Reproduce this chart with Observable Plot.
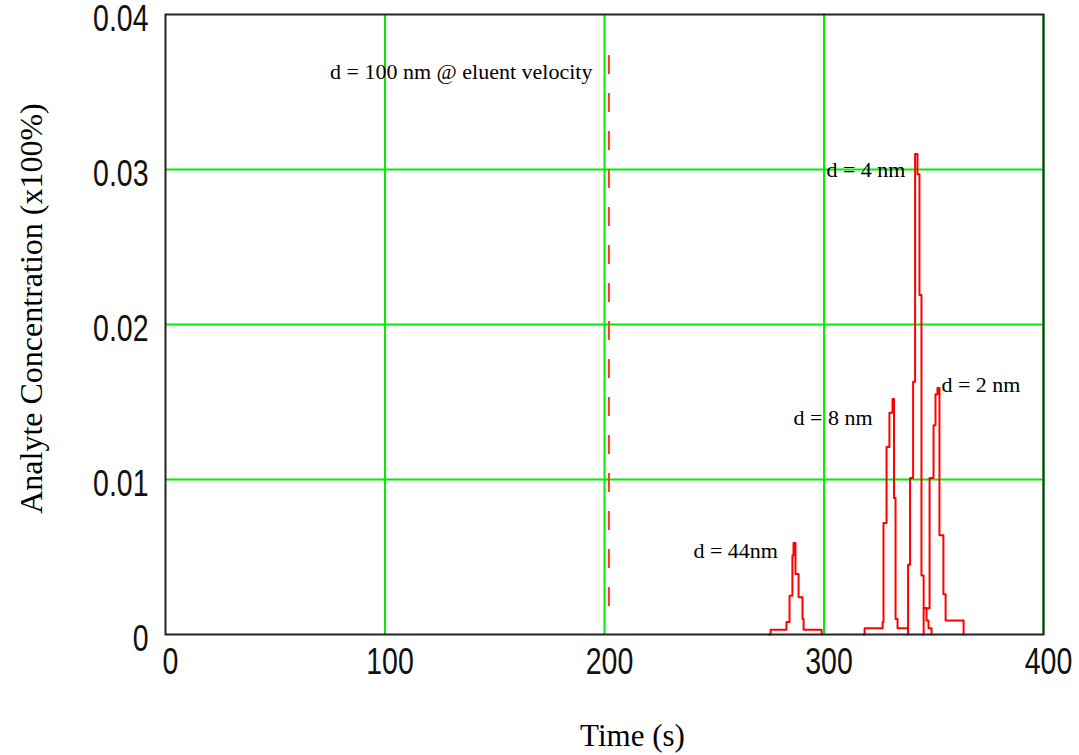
<!DOCTYPE html>
<html>
<head>
<meta charset="utf-8">
<script src="https://cdn.jsdelivr.net/npm/d3@7"></script>
<script src="https://cdn.jsdelivr.net/npm/@observablehq/plot@0.6"></script>
<style>
  html, body { margin: 0; padding: 0; background: #fff; }
  #chart { width: 1079px; height: 755px; }
</style>
</head>
<body>
<div id="chart"></div>
<script>
// ---- data ----
const xTicks = [0, 100, 200, 300, 400];
const yTicks = [0, 0.01, 0.02, 0.03, 0.04];
const gridX = [100, 200, 300, 400];
const gridY = [0.01, 0.02, 0.03];

// peak d = 44 nm
const t44 = [274.7, 275.7, 282.9, 284.3, 285.6, 286.1, 287.0, 288.4, 290.2, 290.7, 298.9];
const c44 = [0, 0.0003, 0.0008, 0.0025, 0.0051, 0.0059, 0.0039, 0.0024, 0.0010, 0.0003, 0];
// peak d = 8 nm
const t8 = [318.0, 318.5, 326.7, 327.1, 328.5, 329.8, 331.2, 331.9, 332.6, 333.5, 338.3];
const c8 = [0, 0.0004, 0.0008, 0.0072, 0.0121, 0.0143, 0.0152, 0.0088, 0.0010, 0.0004, 0];
// peak d = 4 nm
const t4 = [338.0, 338.3, 339.2, 340.6, 341.5, 342.6, 343.5, 344.4, 345.4, 346.7, 347.6, 349.0];
const c4 = [0, 0.0045, 0.0101, 0.0163, 0.0310, 0.0297, 0.0219, 0.0038, 0.0017, 0.0009, 0.0004, 0];
// peak d = 2 nm
const t2 = [345.0, 345.4, 348.1, 349.9, 350.8, 351.7, 352.6, 354.4, 355.4, 363.6];
const c2 = [0, 0.0017, 0.0101, 0.0135, 0.0155, 0.0159, 0.0064, 0.0026, 0.0009, 0];

// eluent-velocity marker (d = 100 nm)
const eluentTime = 202;
const eluentTop = 0.03735;
const eluentBottom = 0.00142;

// annotations
const noteLeft = [{text: "d = 100 nm @ eluent velocity", t: 194.5, c: 0.03632}];
const notesRight = [
  {text: "d = 4 nm", t: 301.1, c: 0.02994},
  {text: "d = 8 nm", t: 286.1, c: 0.01394},
  {text: "d = 2 nm", t: 353.5, c: 0.01613},
  {text: "d = 44nm", t: 240.5, c: 0.00542}
];

const xTitle = "Time (s)";
const yTitle = "Analyte Concentration (x100%)";

// ---- build table ----
const rows = [];
[["44", t44, c44], ["8", t8, c8], ["4", t4, c4], ["2", t2, c2]].forEach(([s, ts, cs]) => {
  ts.forEach((t, i) => rows.push({series: s, t, c: cs[i]}));
});

const tickFont = "'Liberation Sans', Arial, sans-serif";
const serif = "'Liberation Serif', 'DejaVu Serif', serif";

const chart = Plot.plot({
  width: 1079,
  height: 755,
  marginLeft: 165,
  marginRight: 36,
  marginTop: 14,
  marginBottom: 121,
  x: {domain: [0, 400]},
  y: {domain: [0, 0.04]},
  style: {background: "#fff", color: "#111"},
  marks: [
    Plot.ruleX(gridX, {stroke: "#00ee00", strokeWidth: 2}),
    Plot.ruleY(gridY, {stroke: "#00ee00", strokeWidth: 2}),
    Plot.ruleX([eluentTime], {y1: eluentTop, y2: eluentBottom, stroke: "#ff3a1a", strokeWidth: 2, strokeDasharray: "19,19"}),
    Plot.line(rows, {x: "t", y: "c", z: "series", stroke: "#ff0000", strokeWidth: 2, curve: "step-after"}),
    Plot.frame({stroke: "#222", strokeWidth: 2}),
    Plot.axisX(xTicks, {tickSize: 0, tickPadding: 13, dx: 5, label: null, fontFamily: tickFont, fontSize: 37, tickFormat: d => String(d), fill: "#111"}),
    Plot.axisY(yTicks, {tickSize: 0, tickPadding: 17, dy: 5, label: null, fontFamily: tickFont, fontSize: 37, tickFormat: d => d === 0 ? "0" : d.toFixed(2), fill: "#111"}),
    Plot.text(noteLeft, {x: "t", y: "c", text: "text", textAnchor: "end", fontFamily: serif, fontSize: 22, fill: "#000"}),
    Plot.text(notesRight, {x: "t", y: "c", text: "text", textAnchor: "start", fontFamily: serif, fontSize: 22, fill: "#000"}),
    Plot.text([xTitle], {frameAnchor: "bottom", textAnchor: "middle", lineAnchor: "middle", dx: 28, dy: 102, text: d => d, fontFamily: serif, fontSize: 31, fill: "#000"}),
    Plot.text([yTitle], {frameAnchor: "left", textAnchor: "middle", lineAnchor: "middle", rotate: -90, dx: -134, dy: -16, text: d => d, fontFamily: serif, fontSize: 32, fill: "#000"})
  ]
});
document.getElementById("chart").appendChild(chart);

// condense the tick labels horizontally, like the reference's narrow bitmap font
chart.querySelectorAll('g[aria-label="x-axis tick label"] text, g[aria-label="y-axis tick label"] text').forEach(t => {
  const tr = t.getAttribute("transform") || "";
  t.setAttribute("transform", tr + " scale(0.77,1)");
});
</script>
</body>
</html>
